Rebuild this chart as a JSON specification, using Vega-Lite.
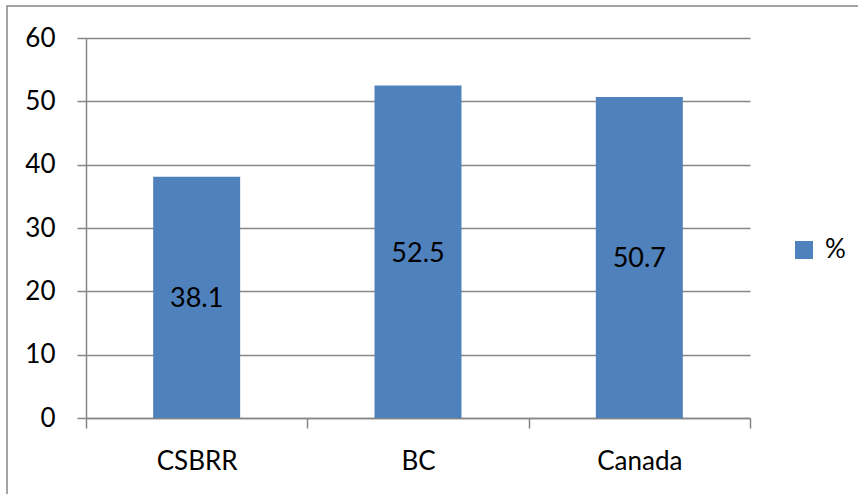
{
  "$schema": "https://vega.github.io/schema/vega-lite/v6.json",
  "width": 853,
  "height": 490,
  "autosize": {"type": "none"},
  "padding": {"left": 7, "top": 6, "right": 0, "bottom": 0},
  "background": "white",
  "config": {"font": "Lato", "view": {"stroke": "#868686", "strokeWidth": 1.5}},
  "data": {
    "values": [
      {"region": "CSBRR", "series": "%", "value": 38.1},
      {"region": "BC", "series": "%", "value": 52.5},
      {"region": "Canada", "series": "%", "value": 50.7}
    ]
  },
  "encoding": {
    "x": {
      "field": "region",
      "type": "nominal",
      "sort": null,
      "scale": {"range": [79, 743], "paddingInner": 0, "paddingOuter": 0},
      "axis": {
        "title": null,
        "orient": "bottom",
        "offset": -78,
        "labelAngle": 0,
        "labelFontSize": 26,
        "labelColor": "black",
        "labelPadding": 20,
        "tickSize": 10,
        "tickBand": "extent",
        "tickColor": "#868686",
        "tickWidth": 1.5,
        "domainColor": "#868686",
        "domainWidth": 1.5,
        "grid": false
      }
    }
  },
  "layer": [
    {
      "mark": {"type": "bar", "width": {"band": 0.393}},
      "encoding": {
        "y": {
          "field": "value",
          "type": "quantitative",
          "scale": {"domain": [0, 60], "range": [412, 32]},
          "axis": {
            "title": null,
            "offset": -79,
            "values": [0, 10, 20, 30, 40, 50, 60],
            "labelFontSize": 26,
            "labelColor": "black",
            "labelPadding": 22,
            "tickSize": 9,
            "tickColor": "#868686",
            "tickWidth": 1.5,
            "domainColor": "#868686",
            "domainWidth": 1.5,
            "grid": true,
            "gridColor": "#868686",
            "gridWidth": 1.5
          }
        },
        "color": {
          "field": "series",
          "type": "nominal",
          "scale": {"range": ["#4F81BD"]},
          "legend": {
            "title": null,
            "orient": "none",
            "legendX": 784,
            "legendY": 231,
            "symbolType": "square",
            "symbolSize": 324,
            "symbolStrokeWidth": 0,
            "symbolOpacity": 1,
            "labelFontSize": 26,
            "labelColor": "black",
            "labelOffset": 8,
            "padding": 0
          }
        }
      }
    },
    {
      "mark": {"type": "text", "fontSize": 27, "color": "black", "dy": 2},
      "encoding": {
        "y": {"field": "value", "type": "quantitative", "stack": "zero", "bandPosition": 0.5},
        "text": {"field": "value", "type": "quantitative", "format": ".1f"}
      }
    }
  ]
}
